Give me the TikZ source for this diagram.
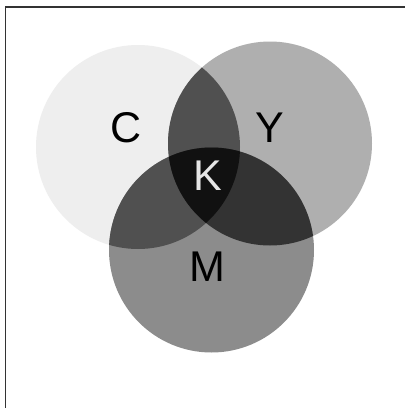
\documentclass[tikz,border=0pt]{standalone}
\usepackage{fontspec}
\setmainfont{Liberation Sans}
\definecolor{cC}{HTML}{EEEEEE}
\definecolor{cY}{HTML}{AFAFAF}
\definecolor{cM}{HTML}{8C8C8C}
\definecolor{cCY}{HTML}{505050}
\definecolor{cCM}{HTML}{505050}
\definecolor{cYM}{HTML}{333333}
\definecolor{cK}{HTML}{111111}
\definecolor{frame}{HTML}{333333}
\begin{document}
\begin{tikzpicture}[x=1pt,y=-1pt,
  lbl/.style={font=\fontsize{43}{43}\selectfont, inner sep=0pt, anchor=center}]
\useasboundingbox (0,0) rectangle (405,408);
\fill[white] (0,0) rectangle (405,408);
\def\pC{(138,147) circle[radius=102]}
\def\pY{(270,143.5) circle[radius=102]}
\def\pM{(211.5,250) circle[radius=102.5]}
\fill[cC] \pC;
\fill[cY] \pY;
\fill[cM] \pM;
\begin{scope}
  \clip \pC;
  \fill[cCY] \pY;
  \fill[cCM] \pM;
\end{scope}
\begin{scope}
  \clip \pY;
  \fill[cYM] \pM;
\end{scope}
\begin{scope}
  \clip \pC;
  \clip \pY;
  \fill[cK] \pM;
\end{scope}
\draw[frame, line width=1.3pt] (5.5,408) -- (5.5,7) -- (405,7);
\node[lbl] (C) at (126.5,128) {C};
\node[lbl] (Y) at (269.5,128) {Y};
\node[lbl, text={rgb,255:red,230;green,230;blue,230}] (K) at (208,176) {K};
\node[lbl] (M) at (207.7,266.7) {M};
\end{tikzpicture}
\end{document}
